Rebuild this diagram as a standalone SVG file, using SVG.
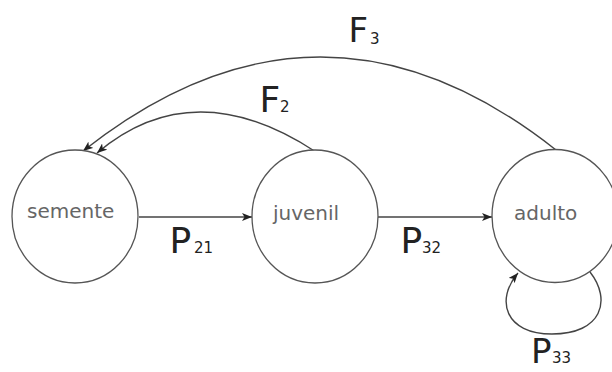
<svg xmlns="http://www.w3.org/2000/svg" width="612" height="372" viewBox="0 0 612 372">
  <defs>
    <style>
      .node { fill: #ffffff; stroke: #555555; stroke-width: 1.3; }
      .nlabel { font-family: "DejaVu Sans", "Liberation Sans", sans-serif; font-size: 20px; fill: #666666; }
      .edge { fill: none; stroke: #444444; stroke-width: 1.4; }
      .elabel { font-family: "DejaVu Sans", "Liberation Sans", sans-serif; fill: #222222; }
      .big { font-size: 36px; }
      .sub { font-size: 15px; }
    </style>
    <marker id="arrow" viewBox="0 0 10 8" refX="10" refY="4" markerWidth="10" markerHeight="8" markerUnits="userSpaceOnUse" orient="auto">
      <path d="M0,0 L10,4 L0,8 L2.5,4 Z" fill="#222222"/>
    </marker>
  </defs>
  <rect width="612" height="372" fill="#ffffff"/>

  <g id="connectors">
    <path id="e-semente-juvenil" class="edge" d="M139,217 L252,217" marker-end="url(#arrow)"/>
    <path id="e-juvenil-adulto" class="edge" d="M378,217 L492,217" marker-end="url(#arrow)"/>
    <path id="e-juvenil-semente" class="edge" d="M316,152 Q193.5,71.5 97,153" marker-end="url(#arrow)"/>
    <path id="e-adulto-semente" class="edge" d="M556,150 Q320,-36.5 83,151" marker-end="url(#arrow)"/>
    <path id="e-adulto-adulto" class="edge" d="M590,272 C612,300 602,334 552,334 C505,334 495,300 518,273" marker-end="url(#arrow)"/>
    <text class="elabel big" x="169.5" y="253">P<tspan class="sub" x="194" y="253">21</tspan></text>
    <text class="elabel big" x="400.5" y="253">P<tspan class="sub" x="422" y="253">32</tspan></text>
    <text class="elabel" style="font-size:34px" x="531" y="363">P<tspan class="sub" x="552" y="363">33</tspan></text>
    <text class="elabel big" x="259.5" y="112">F<tspan class="sub" x="280" y="112">2</tspan></text>
    <text class="elabel" style="font-size:34px" x="348.5" y="42">F<tspan class="sub" x="370" y="44">3</tspan></text>
  </g>

  <g id="semente">
    <ellipse class="node" cx="75" cy="216.5" rx="63" ry="66.5"/>
    <text class="nlabel" x="27" y="218">semente</text>
  </g>
  <g id="juvenil">
    <ellipse class="node" cx="315" cy="216.5" rx="63" ry="66.5"/>
    <text class="nlabel" x="273" y="220">juvenil</text>
  </g>
  <g id="adulto">
    <ellipse class="node" cx="555" cy="216" rx="63" ry="66.5"/>
    <text class="nlabel" x="514" y="220">adulto</text>
  </g>
</svg>
